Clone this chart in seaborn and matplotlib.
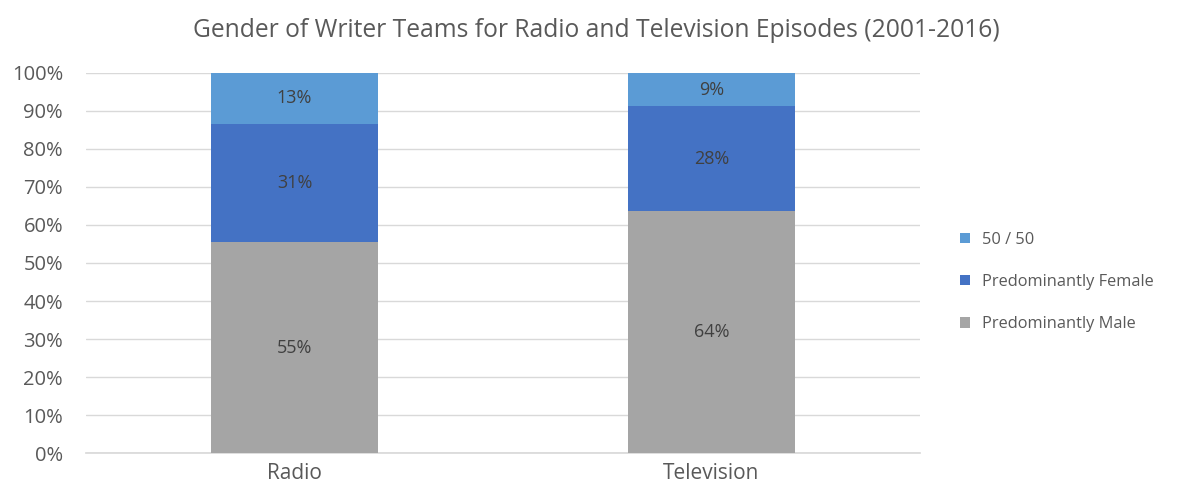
import matplotlib
matplotlib.use("Agg")
import matplotlib.pyplot as plt
import seaborn as sns
import pandas as pd
import numpy as np
from matplotlib.patches import Patch

categories = ["Radio", "Television"]
male = [55.4, 63.6]
female = [31.2, 27.6]
fifty = [13.4, 8.8]
series_names = ["50 / 50", "Predominantly Female", "Predominantly Male"]
colors = {"50 / 50": "#5B9BD5", "Predominantly Female": "#4472C4", "Predominantly Male": "#A5A5A5"}
yticks = [0, 10, 20, 30, 40, 50, 60, 70, 80, 90, 100]

sns.set_theme(style="white")
plt.rcParams['font.family'] = ['Open Sans', 'DejaVu Sans']

df = pd.DataFrame({"category": categories, "male": male, "female": female, "fifty": fifty})
df["cum_female"] = df["male"] + df["female"]
df["cum_fifty"] = df["cum_female"] + df["fifty"]

fig = plt.figure(figsize=(11.78, 4.92), dpi=100)
ax = fig.add_axes([0.073, 0.079, 0.708, 0.773])

for col, name in [("cum_fifty", "50 / 50"), ("cum_female", "Predominantly Female"), ("male", "Predominantly Male")]:
    sns.barplot(data=df, x="category", y=col, color=colors[name], width=0.4, ax=ax,
                saturation=1, edgecolor="none", zorder=3)

# labels
for i, cat in enumerate(categories):
    bottoms = [0, male[i], male[i] + female[i]]
    vals = [male[i], female[i], fifty[i]]
    for b, v in zip(bottoms, vals):
        ax.text(i, b + v / 2, f"{v:.0f}%", ha="center", va="center", fontsize=13, color="#404040", zorder=5)

ax.set_ylim(0, 100)
ax.set_xlim(-0.5, 1.5)
ax.set_yticks(yticks)
ax.set_yticklabels([f"{t}%" for t in yticks])
ax.yaxis.grid(True, color="#D9D9D9", linewidth=1, zorder=0)
ax.set_axisbelow(True)
for s in ["top", "right", "left"]:
    ax.spines[s].set_visible(False)
ax.spines["bottom"].set_color("#D9D9D9")
ax.tick_params(axis="both", length=0, colors="#595959")
ax.tick_params(axis="y", pad=16.5, labelsize=14.5)
ax.tick_params(axis="x", pad=6.8, labelsize=15)
ax.set_xlabel("")
ax.set_ylabel("")

fig.suptitle("Gender of Writer Teams for Radio and Television Episodes (2001-2016)",
             x=0.506, y=0.963, fontsize=17.7, color="#595959")

handles = [Patch(facecolor=colors[n], edgecolor="none") for n in series_names]
fig.legend(handles, series_names, loc="center left", bbox_to_anchor=(0.8027, 0.427), frameon=False,
           fontsize=11.8, labelcolor="#595959", handlelength=0.62, handleheight=0.62, handletextpad=0.68,
           labelspacing=1.6)

fig.savefig("out.png", dpi=100)
